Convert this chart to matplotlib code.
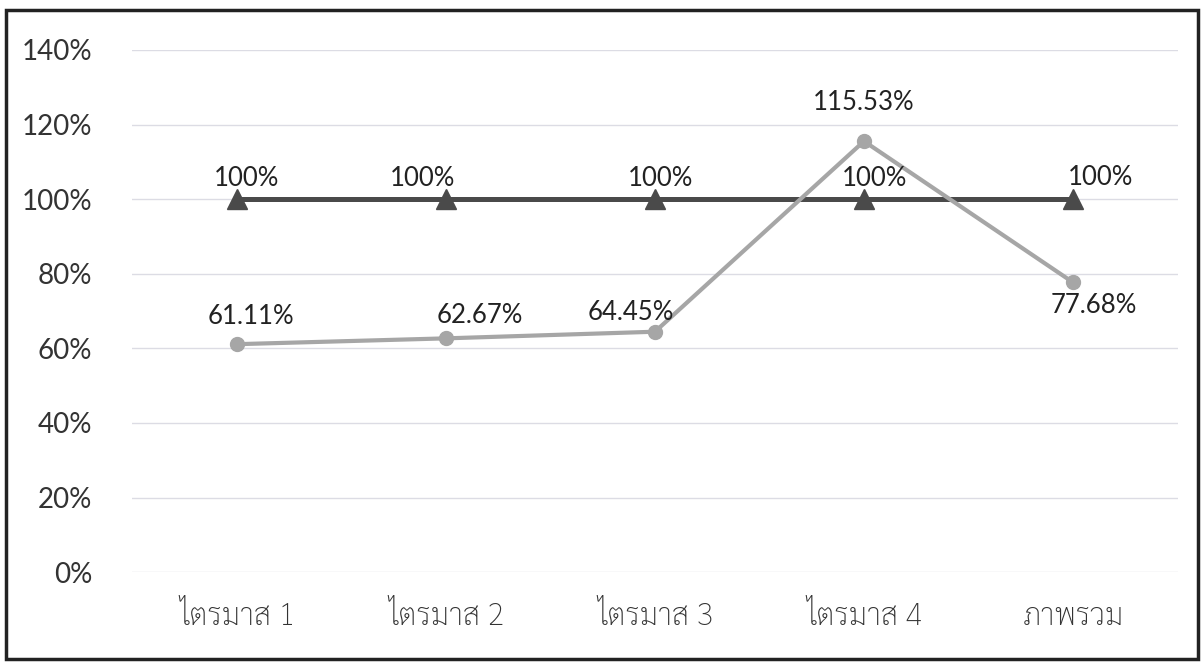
import numpy as np
import matplotlib.pyplot as plt
from matplotlib.patches import Rectangle

categories = ["ไตรมาส 1", "ไตรมาส 2", "ไตรมาส 3", "ไตรมาส 4", "ภาพรวม"]
target = [1.00, 1.00, 1.00, 1.00, 1.00]
actual = [0.6111, 0.6267, 0.6445, 1.1553, 0.7768]
yticks = [0, 0.2, 0.4, 0.6, 0.8, 1.0, 1.2, 1.4]

# label offsets in pixels, as placed in the original chart
target_offsets = [(10, 21), (-23, 21), (6, 21), (11, 21), (28, 22)]
actual_offsets = [(14, 28), (34, 23), (-24, 19), (0, 39), (21, -23)]

plt.rcParams['font.family'] = ['Lato', 'DejaVu Sans']
thai_font = ['Sarabun', 'Noto Sans Thai Looped', 'DejaVu Sans']

fig = plt.figure(figsize=(12.04, 6.66), dpi=100)
ax = fig.add_axes([0.110, 0.141, 0.868, 0.784])

x = np.arange(len(categories))
ax.plot(x, target, color='#4a4a4a', lw=3.6, marker='^', ms=14, zorder=3)
ax.plot(x, actual, color='#a6a6a6', lw=3, marker='o', ms=10, zorder=4)

for i, v in enumerate(target):
    ax.annotate(f"{v * 100:.0f}%", (x[i], v), xytext=target_offsets[i], textcoords='offset pixels',
                ha='center', va='center', fontsize=18.5, color='#222222', zorder=5)
for i, v in enumerate(actual):
    ax.annotate(f"{v * 100:.2f}%", (x[i], v), xytext=actual_offsets[i], textcoords='offset pixels',
                ha='center', va='center', fontsize=18.5, color='#222222', zorder=5)

ax.set_xlim(-0.5, len(categories) - 0.5)
ax.set_ylim(0, 1.4)
ax.set_yticks(yticks)
ax.set_yticklabels([f"{t * 100:.0f}%" for t in yticks], fontsize=20, color='#333333')
ax.set_xticks(x)
ax.set_xticklabels(categories, fontsize=22, color='#333333', family=thai_font, fontweight='light')
ax.tick_params(length=0)
ax.tick_params(axis='x', pad=21)
ax.tick_params(axis='y', pad=29)
ax.grid(axis='y', color='#dcdce4', lw=1)
ax.set_axisbelow(True)
for s in ax.spines.values():
    s.set_visible(False)

fig.patches.append(Rectangle((0.005, 0.01), 0.99, 0.975, transform=fig.transFigure,
                             fill=False, edgecolor='#222222', lw=2.5))

fig.savefig("out.png", dpi=100)
